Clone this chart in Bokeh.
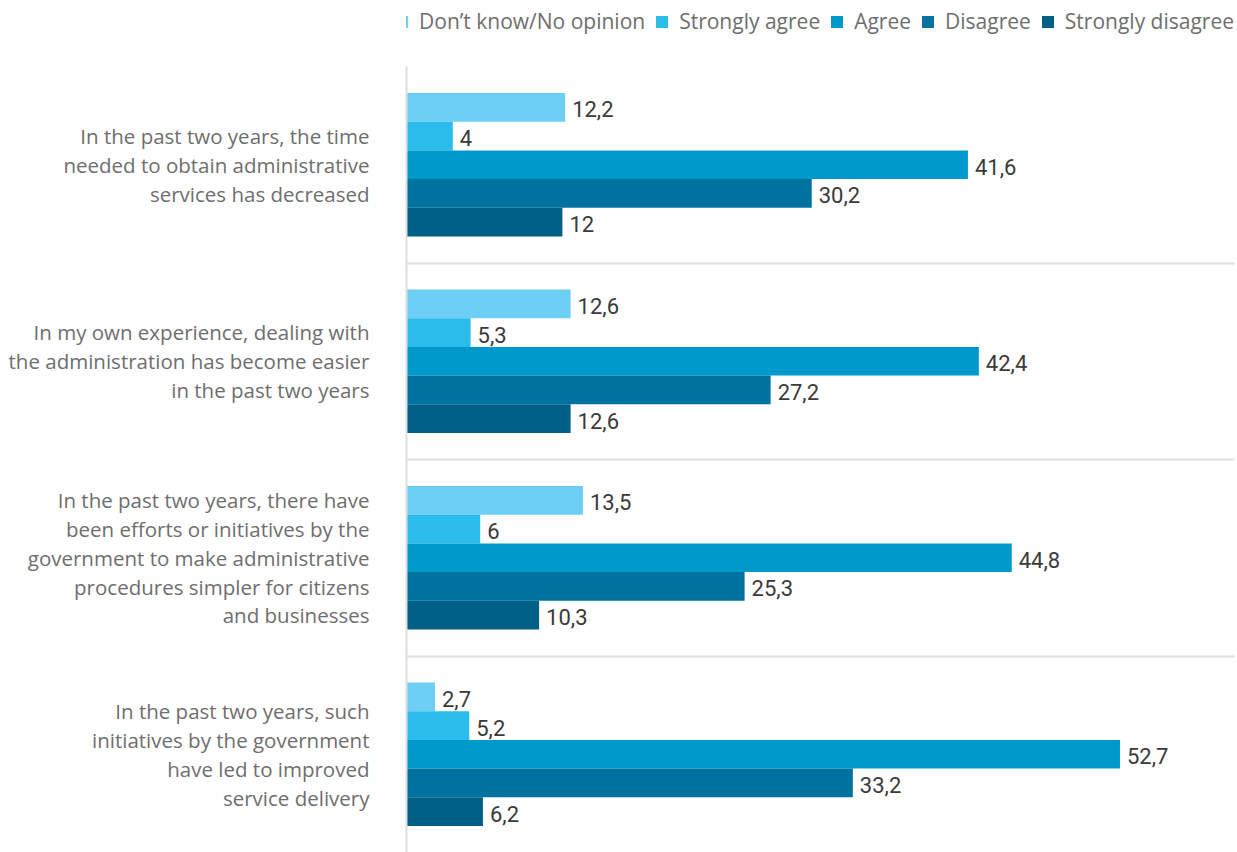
from bokeh.plotting import figure
from bokeh.layouts import column
from bokeh.models import ColumnDataSource, Range1d, FixedTicker, Legend, LegendItem
from bokeh.core.properties import value
from bokeh.embed import file_html
from bokeh.resources import INLINE

questions = [
    "In the past two years, the time\nneeded to obtain administrative\nservices has decreased",
    "In my own experience, dealing with\nthe administration has become easier\nin the past two years",
    "In the past two years, there have\nbeen efforts or initiatives by the\ngovernment to make administrative\nprocedures simpler for citizens\nand businesses",
    "In the past two years, such\ninitiatives by the government\nhave led to improved\nservice delivery",
]
series = ["Don\u2019t know/No opinion", "Strongly agree", "Agree", "Disagree", "Strongly disagree"]
dont_know = [12.2, 12.6, 13.5, 2.7]
strongly_agree = [4, 5.3, 6, 5.2]
agree = [41.6, 42.4, 44.8, 52.7]
disagree = [30.2, 27.2, 25.3, 33.2]
strongly_disagree = [12, 12.6, 10.3, 6.2]
colors = ["#6DCFF6", "#2ABCEA", "#0099CC", "#0072A0", "#005F87"]

all_values = [dont_know, strongly_agree, agree, disagree, strongly_disagree]
n = len(questions)
cat_y = [n - 1 - i for i in range(n)]
bar_h = 0.146

LABEL_FONT = "Open Sans"
NUM_FONT = "Roboto"

# ---- legend strip ----
leg = figure(width=1237, height=62, output_backend="svg", toolbar_location=None,
             x_range=Range1d(0, 1), y_range=Range1d(0, 1),
             min_border_left=200, min_border_right=3, min_border_top=7, min_border_bottom=0)
leg.axis.visible = False
leg.grid.visible = False
leg.outline_line_color = None
items = []
for name, c in zip(series, colors):
    # a single hidden sample (outside the visible range) just to carry the legend swatch
    r = leg.rect(x=[0.5], y=[-5], width=[0.5], height=[0.5], fill_color=c, line_color=None)
    items.append(LegendItem(label=name, renderers=[r]))
legend = Legend(items=items, orientation="horizontal", location="top_right",
                glyph_width=15, glyph_height=15, label_standoff=10, spacing=9,
                label_text_font=LABEL_FONT, label_text_font_size="21px",
                label_text_color="#6e6e6e", border_line_color=None,
                background_fill_alpha=0, margin=0, padding=4)
leg.add_layout(legend, "center")

# ---- main chart ----
p = figure(width=1237, height=790, output_backend="svg", toolbar_location=None,
           x_range=Range1d(0.62, 61.06), y_range=Range1d(-0.5, n - 0.5),
           min_border_left=406, min_border_right=0, min_border_top=4, min_border_bottom=0)

for j, (name, vals) in enumerate(zip(series, all_values)):
    src = ColumnDataSource(dict(
        y=[cy + (2 - j) * bar_h for cy in cat_y],
        v=vals,
        lbl=[f"{v:g}".replace(".", ",") for v in vals],
    ))
    p.hbar(y="y", left=0, right="v", height=bar_h, source=src,
           fill_color=colors[j], line_color=None)
    p.text(x="v", y="y", text="lbl", source=src, x_offset=7, y_offset=2,
           text_baseline="middle", text_align="left", text_font=value(NUM_FONT),
           text_font_size="22px", text_color="#3a3a3a")

p.xaxis.visible = False
p.xgrid.visible = False
p.ygrid.ticker = FixedTicker(ticks=[i + 0.5 for i in range(n)])
p.ygrid.grid_line_color = "#dedede"
p.ygrid.grid_line_width = 2
p.outline_line_color = None

ax = p.yaxis[0]
ax.ticker = FixedTicker(ticks=cat_y)
ax.major_label_overrides = {cy: q for cy, q in zip(cat_y, questions)}
ax.major_tick_line_color = None
ax.minor_tick_line_color = None
ax.major_tick_out = 0
ax.major_tick_in = 0
ax.major_label_standoff = 37
ax.axis_line_color = "#dedede"
ax.axis_line_width = 2
ax.major_label_text_font = LABEL_FONT
ax.major_label_text_font_size = "20.5px"
ax.major_label_text_color = "#6e6e6e"
ax.major_label_text_line_height = 1.03

layout = column(leg, p, spacing=0)
open("out.html", "w").write(file_html(layout, INLINE))
